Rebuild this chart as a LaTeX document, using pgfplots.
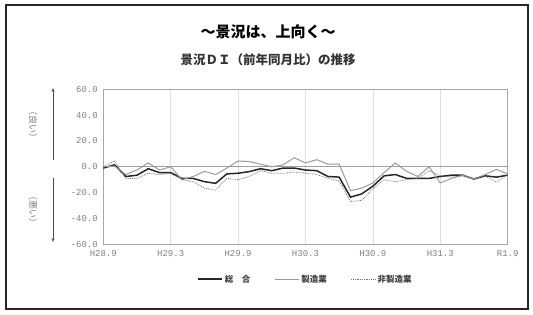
\documentclass[border=0pt]{standalone}
\usepackage{fontspec}
\setmainfont{Noto Sans CJK JP}
\newfontfamily\tickfont{Liberation Mono}
\usepackage{pgfplots}
\pgfplotsset{compat=1.18}
\usetikzlibrary{arrows.meta}
\definecolor{mgray}{HTML}{9A9A9A}
\definecolor{tgray}{HTML}{808080}
\begin{document}
\begin{tikzpicture}[x=1pt,y=1pt]
\useasboundingbox (0,0) rectangle (533,315);
\draw[line width=1.3pt, black!85] (6,6) rectangle (528,310);
\node[font=\fontsize{15}{15}\selectfont\bfseries] at (268,283) {～景況は、上向く～};
\node[font=\fontsize{12.5}{12.5}\selectfont\bfseries, text=black!80] at (268,255) {景況ＤＩ（前年同月比）の推移};
% left indicators
\draw[line width=1pt, black!70, -{Stealth[length=4pt,width=3pt]}] (53,155) -- (53,227);
\draw[line width=1pt, black!70, -{Stealth[length=4pt,width=3pt]}] (53,137) -- (53,73);
\node[text=tgray, font=\fontsize{9}{10}\selectfont, rotate=-90, inner sep=0pt] at (33,190) {（良い）};
\node[text=tgray, font=\fontsize{9}{10}\selectfont, rotate=-90, inner sep=0pt] at (33,105) {（悪い）};
\begin{axis}[
  at={(103.3pt,70.7pt)}, anchor=south west,
  scale only axis, width=404.4pt, height=155pt,
  xmin=0, xmax=36, ymin=-60, ymax=60,
  xtick={0,6,12,18,24,30,36},
  xticklabels={H28.9,H29.3,H29.9,H30.3,H30.9,H31.3,R1.9},
  ytick={-60,-40,-20,0,20,40,60},
  yticklabels={-60.0,-40.0,-20.0,0.0,20.0,40.0,60.0},
  major tick length=0pt,
  xmajorgrids, major grid style={gray!25, line width=0.8pt},
  axis line style={gray!70, line width=1pt},
  tick label style={font=\tickfont\fontsize{9}{9}\selectfont, text=tgray},
  yticklabel style={xshift=-2pt},
  xticklabel style={yshift=-3pt},
  /pgf/number format/assume math mode=true,
  legend style={at={(0.5,-0.225)}, anchor=center, draw=none, fill=none,
    font=\fontsize{8.5}{9}\selectfont\bfseries, text=black!75,
    /tikz/every even column/.append style={column sep=22pt}},
  legend columns=3,
  legend cell align=left,
  legend image code/.code={\draw[#1] (0pt,0pt) -- (24pt,0pt);},
]
\draw[gray!75, line width=1.2pt] (axis cs:0,0) -- (axis cs:36,0);
\addplot[black!85, line width=1.5pt] coordinates {
(0,-1)(1,1.5)(2,-7.5)(3,-6.5)(4,-1.5)(5,-4.5)(6,-4.5)(7,-9)(8,-9)(9,-11.5)
(10,-12.8)(11,-5.5)(12,-5)(13,-3.7)(14,-1.5)(15,-3)(16,-1)(17,-1)(18,-2.5)(19,-3)
(20,-7.5)(21,-8)(22,-23.5)(23,-21)(24,-15)(25,-7)(26,-6)(27,-9)(28,-9)(29,-9)
(30,-7.5)(31,-6.5)(32,-6.5)(33,-9.5)(34,-7)(35,-8)(36,-6.5)};
\addlegendentry{総　合}
\addplot[mgray, line width=1pt] coordinates {
(0,0)(1,0.5)(2,-6)(3,-2.5)(4,3)(5,-2.5)(6,0)(7,-10)(8,-7.5)(9,-3.5)
(10,-6)(11,-1)(12,4.5)(13,4)(14,2)(15,0)(16,1.5)(17,7)(18,3)(19,5.5)
(20,2)(21,2)(22,-18.5)(23,-16.5)(24,-12.5)(25,-4.5)(26,3)(27,-3.5)(28,-7.5)(29,0)
(30,-12.5)(31,-9)(32,-6.5)(33,-9.5)(34,-6)(35,-2)(36,-5.5)};
\addlegendentry{製造業}
\addplot[black!55, line width=0.8pt, densely dotted] coordinates {
(0,0)(1,4.5)(2,-9)(3,-9)(4,-5)(5,-6)(6,-5)(7,-10)(8,-11.5)(9,-16.5)
(10,-18)(11,-9)(12,-10)(13,-7.5)(14,-3)(15,-5)(16,-5)(17,-4)(18,-5)(19,-6)
(20,-9)(21,-11)(22,-27)(23,-26)(24,-17)(25,-10)(26,-11.5)(27,-10)(28,-9)(29,-3)
(30,-7)(31,-8)(32,-7)(33,-9)(34,-7)(35,-12)(36,-6)};
\addlegendentry{非製造業}
\end{axis}
\end{tikzpicture}
\end{document}
